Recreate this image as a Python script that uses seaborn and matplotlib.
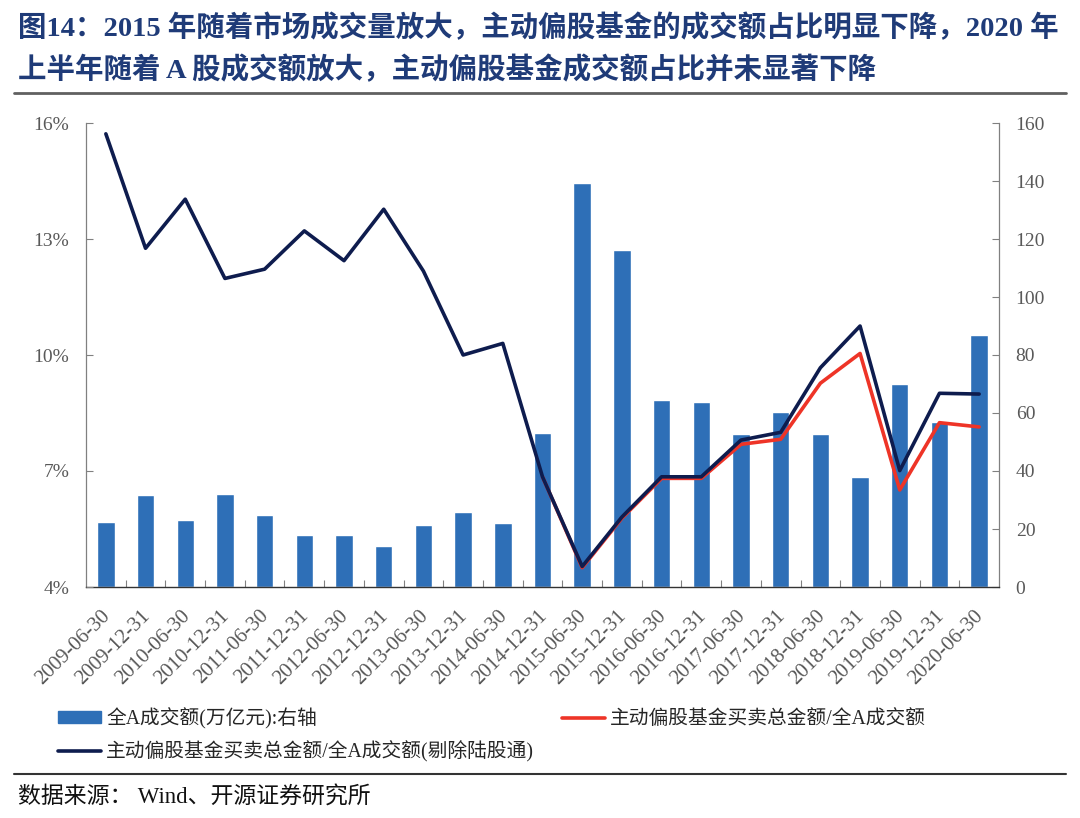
import numpy as np
import pandas as pd
import matplotlib
matplotlib.use("Agg")
import matplotlib.pyplot as plt
import matplotlib.transforms as mtransforms
from matplotlib.lines import Line2D
from matplotlib.patches import Patch
import seaborn as sns

# ---------------- data ----------------
dates = ["2009-06-30", "2009-12-31", "2010-06-30", "2010-12-31", "2011-06-30",
         "2011-12-31", "2012-06-30", "2012-12-31", "2013-06-30", "2013-12-31",
         "2014-06-30", "2014-12-31", "2015-06-30", "2015-12-31", "2016-06-30",
         "2016-12-31", "2017-06-30", "2017-12-31", "2018-06-30", "2018-12-31",
         "2019-06-30", "2019-12-31", "2020-06-30"]
# 全A成交额(万亿元) - right axis
turnover = [22.5, 31.6, 23.0, 32.2, 24.9, 17.8, 17.8, 14.3, 21.5, 26.0, 22.0, 53.0,
            139.4, 116.1, 64.4, 63.7, 52.6, 60.5, 52.9, 38.0, 69.9, 56.9, 86.9]
# 主动偏股基金买卖总金额/全A成交额 (%)
ratio_all = [np.nan] * 11 + [6.85, 4.50, 5.78, 6.81, 6.81, 7.69, 7.82, 9.27, 10.04,
                             6.51, 8.25, 8.14]
# 主动偏股基金买卖总金额/全A成交额(剔除陆股通) (%)
ratio_ex = [15.72, 12.76, 14.03, 11.98, 12.22, 13.21, 12.44, 13.77, 12.17, 10.00,
            10.30, 6.85, 4.53, 5.81, 6.85, 6.85, 7.80, 8.00, 9.67, 10.75, 7.01,
            9.01, 8.99]

left_ticks = [4, 7, 10, 13, 16]
left_labels = ["4%", "7%", "10%", "13%", "16%"]
right_ticks = [0, 20, 40, 60, 80, 100, 120, 140, 160]

title_1 = "图14：2015 年随着市场成交量放大，主动偏股基金的成交额占比明显下降，2020 年"
title_2 = "上半年随着 A 股成交额放大，主动偏股基金成交额占比并未显著下降"
legend_bar = "全A成交额(万亿元):右轴"
legend_red = "主动偏股基金买卖总金额/全A成交额"
legend_navy = "主动偏股基金买卖总金额/全A成交额(剔除陆股通)"
source = "数据来源： Wind、开源证券研究所"

# ---------------- style ----------------
sns.set_theme(style="white")
plt.rcParams["font.family"] = ["Liberation Serif", "Noto Sans CJK SC", "DejaVu Sans"]
plt.rcParams["axes.unicode_minus"] = False

BAR = "#2E6FB7"
NAVY = "#0E1C4E"
RED = "#EE3427"
TITLE = "#1F3B78"
TICK = "#595959"

fig = plt.figure(figsize=(10.8, 8.18), dpi=100)
ax = fig.add_axes([86 / 1080, 1 - 587 / 818, (999 - 86) / 1080, (587 - 123) / 818])

df = pd.DataFrame({"date": dates, "turnover": turnover})
sns.barplot(data=df, x="date", y="turnover", ax=ax, color=BAR, width=0.44,
            saturation=1, zorder=2)
ax.set_xlim(-0.5, len(dates) - 0.5)
ax.set_ylim(0, 160)
ax.set_yticks(right_ticks)
ax.yaxis.tick_right()
ax.set_xlabel("")
ax.set_ylabel("")

idx = np.arange(len(dates))
ax2 = ax.twinx()
sns.lineplot(x=idx, y=ratio_all, ax=ax2, color=RED, lw=2.6)
sns.lineplot(x=idx, y=ratio_ex, ax=ax2, color=NAVY, lw=2.6)
ax2.set_ylim(4, 16)
ax2.yaxis.tick_left()
ax2.set_yticks(left_ticks)
ax2.set_yticklabels(left_labels)
ax2.set_ylabel("")
ax2.set_xlim(-0.5, len(dates) - 0.5)

# x ticks
ax.set_xticks(idx)
ax.set_xticklabels(dates, rotation=45, ha="right", va="top", rotation_mode="anchor",
                   fontsize=15, color=TICK)
ax.tick_params(axis="x", which="major", length=0, pad=14)
shift = mtransforms.ScaledTranslation(-5 / 100, 0, fig.dpi_scale_trans)
for lab in ax.get_xticklabels():
    lab.set_transform(lab.get_transform() + shift)
ax.set_xticks(np.arange(0.5, len(dates) - 0.5, 1), minor=True)
ax.tick_params(axis="x", which="minor", direction="in", length=5, width=0.8,
               color="#808080", bottom=True)

ax.tick_params(axis="y", direction="in", length=5, width=0.8, color="#808080",
               labelsize=14, labelcolor=TICK, pad=12, right=True, left=False,
               labelright=True, labelleft=False)
ax2.tick_params(axis="y", direction="in", length=5, width=0.8, color="#808080",
                labelsize=14, labelcolor=TICK, pad=12, left=True, right=False,
                labelleft=True, labelright=False)

for a in (ax, ax2):
    for s in a.spines.values():
        s.set_visible(False)
for side in ("left", "right"):
    ax.spines[side].set_visible(True)
    ax.spines[side].set_color("#808080")
    ax.spines[side].set_linewidth(0.9)
ax.spines["bottom"].set_visible(True)
ax.spines["bottom"].set_color("#333333")
ax.spines["bottom"].set_linewidth(1.0)
ax.grid(False)
ax2.grid(False)

# legend
handles = [Patch(facecolor=BAR, edgecolor=BAR),
           Line2D([0], [0], color=NAVY, lw=2.6),
           Line2D([0], [0], color=RED, lw=2.6)]
labels = [legend_bar, legend_navy, legend_red]
fig.legend(handles, labels, loc="upper left", bbox_to_anchor=(40 / 1080, 1 - 690 / 818),
           ncol=2, frameon=False, handlelength=2.2, handleheight=0.6,
           handletextpad=0.25, labelspacing=0.62, columnspacing=1.4,
           prop={"family": ["Liberation Serif", "Noto Sans CJK SC"], "size": 14.2})

# title and rules
fig.text(18 / 1080, 1 - 28 / 818, title_1, fontsize=20.5, weight="bold", color=TITLE,
         va="center", ha="left")
fig.text(18 / 1080, 1 - 70 / 818, title_2, fontsize=20.5, weight="bold", color=TITLE,
         va="center", ha="left")
fig.add_artist(Line2D([14 / 1080, 1066 / 1080], [1 - 93 / 818] * 2,
                      transform=fig.transFigure, color="#606060", lw=2.0))
fig.add_artist(Line2D([14 / 1080, 1066 / 1080], [1 - 774 / 818] * 2,
                      transform=fig.transFigure, color="#333333", lw=1.5))
fig.text(18 / 1080, 1 - 798 / 818, source, fontsize=16.5, color="#111111",
         va="center", ha="left")

fig.savefig("out.png", dpi=100)
